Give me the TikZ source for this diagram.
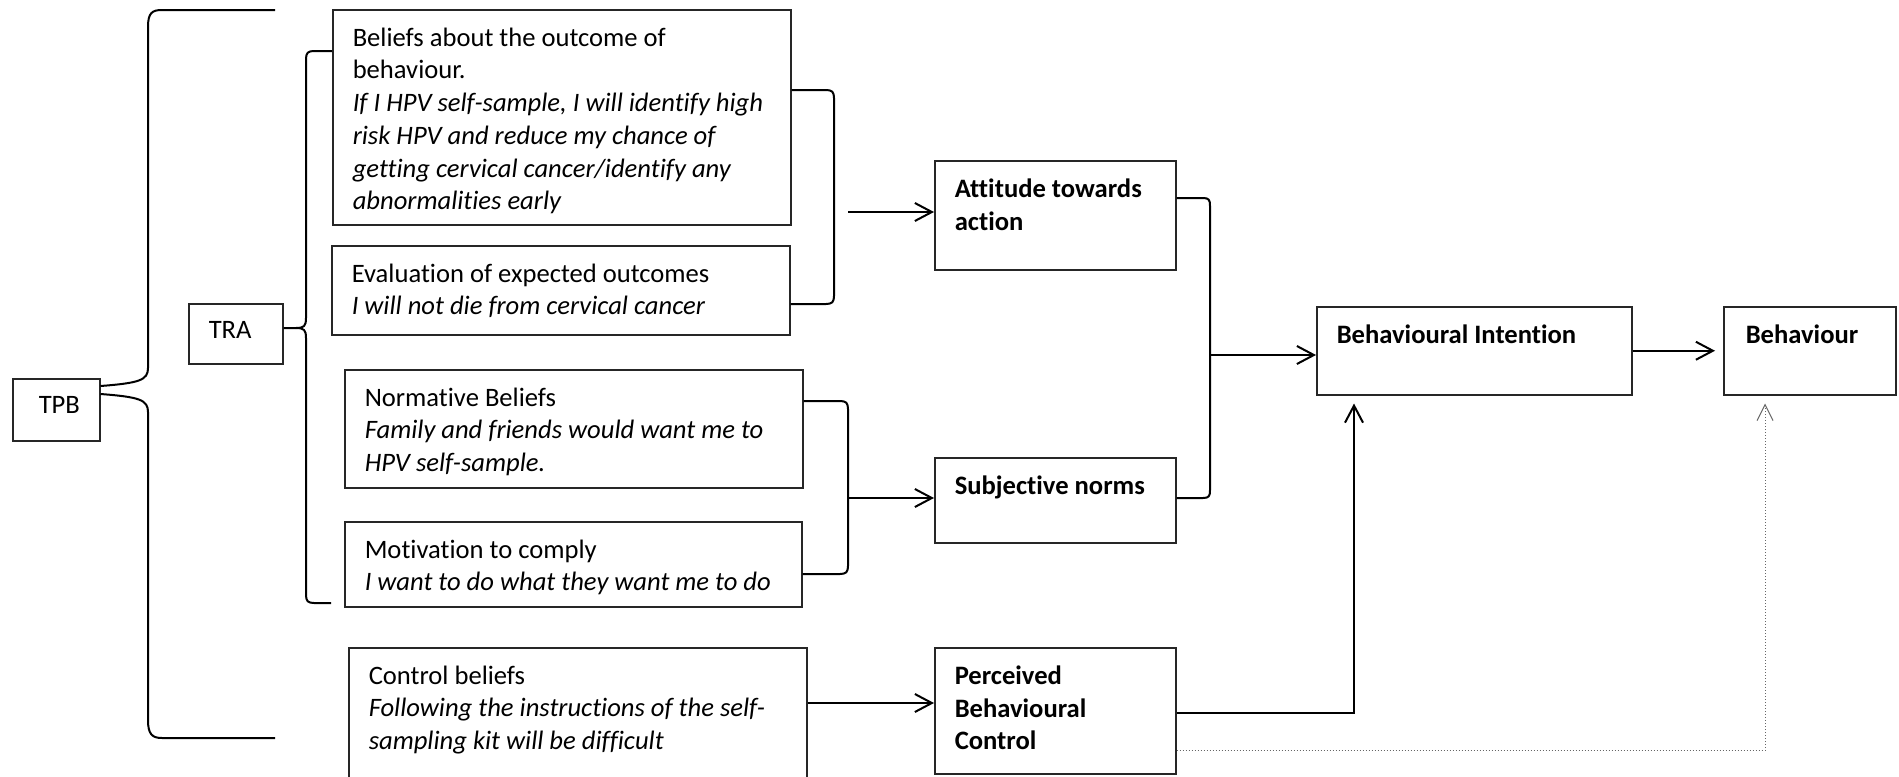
\documentclass[tikz,border=0pt]{standalone}
\usepackage{fontspec}
\setmainfont{Carlito}[Ligatures=CommonOff]
\usetikzlibrary{arrows.meta, positioning, calc}

% fixed size text block: height, width, content
\newcommand{\boxtext}[3]{\makebox[#2][l]{\parbox[t][#1][t]{20cm}{#3}}}

\begin{document}
\begin{tikzpicture}[
    x=0.5pt, y=-0.5pt,
    box/.style={draw=black!85, line width=0.75pt, anchor=north west, inner xsep=10pt, inner ysep=9pt, font=\fontsize{13.3}{16.35}\selectfont},
    brace/.style={line width=1pt},
    arrow/.style={-{Straight Barb[length=8.5pt,width=9pt]}, line width=1pt},
    dotarrow/.style={-{Straight Barb[length=8pt,width=8pt]}, densely dotted, line width=0.5pt, black!60}
]
\useasboundingbox (0,0) rectangle (1899,776);

% Theories
\node[box, inner xsep=13pt] (tpb) at (12,378) {\boxtext{13pt}{17.5pt}{TPB}};
\node[box] (tra) at (188,303) {\boxtext{12pt}{27pt}{TRA}};

% Beliefs
\node[box] (outcome) at (332,9) {\boxtext{89.5pt}{209pt}{Beliefs about the outcome of\\ behaviour.\\ \itshape If I HPV self-sample, I will identify high\\ risk HPV and reduce my chance of\\ getting cervical cancer/identify any\\ abnormalities early}};
\node[box] (evaluation) at (331,245) {\boxtext{26.5pt}{209pt}{Evaluation of expected outcomes\\ \itshape I will not die from cervical cancer}};
\node[box] (normative) at (344,369) {\boxtext{41pt}{209pt}{Normative Beliefs\\ \itshape Family and friends would want me to\\ HPV self-sample.}};
\node[box] (motivation) at (344,521) {\boxtext{24.5pt}{208.5pt}{Motivation to comply\\ \itshape I want to do what they want me to do}};
\node[box] (control) at (348,647) {\boxtext{49.5pt}{209pt}{Control beliefs\\ \itshape Following the instructions of the self-\\ sampling kit will be difficult}};

% Constructs
\node[box] (attitude) at (934,160) {\boxtext{36.5pt}{100.5pt}{\bfseries Attitude towards\\ action}};
\node[box] (subjective) at (934,457) {\boxtext{24.5pt}{100.5pt}{\bfseries Subjective norms}};
\node[box] (pbc) at (934,647) {\boxtext{45pt}{100.5pt}{\bfseries Perceived\\ Behavioural\\ Control}};
\node[box] (intention) at (1316,306) {\boxtext{26pt}{137.5pt}{\bfseries Behavioural Intention}};
\node[box, inner xsep=11pt] (behaviour) at (1723,306) {\boxtext{26pt}{64pt}{\bfseries Behaviour}};

% Brace ends
\coordinate (tpbtop) at (275,10);
\coordinate (tpbbot) at (275,738);
\coordinate (trabot) at (331,603);
\coordinate (attfrom) at (848,212);
\coordinate (subjfrom) at (848,498);
\coordinate (intfrom) at (1210,355);

% Braces
\draw[brace] (tpb.east |- 0,386) .. controls (140,383) and (148,380) .. (148,368) -- (148,27) .. controls (148,13) and (152,10) .. (162,10) -- (tpbtop);
\draw[brace] (tpb.east |- 0,394) .. controls (140,397) and (148,400) .. (148,412) -- (148,720) .. controls (148,734) and (152,738) .. (162,738) -- (tpbbot);
\draw[brace] (tra.east |- 0,328) -- (296,328) .. controls (304,328) and (306,326) .. (306,318) -- (306,59) .. controls (306,53) and (308,51) .. (314,51) -- (outcome.west |- 0,51);
\draw[brace] (296,328) .. controls (304,328) and (306,330) .. (306,338) -- (306,595) .. controls (306,601) and (308,603) .. (314,603) -- (trabot);
\draw[brace] (outcome.east |- 0,90) -- (826,90) .. controls (832,90) and (834,92) .. (834,98) -- (834,296) .. controls (834,302) and (832,304) .. (826,304) -- (evaluation.east |- 0,304);
\draw[brace] (normative.east |- 0,401) -- (840,401) .. controls (846,401) and (848,403) .. (848,409) -- (848,566) .. controls (848,572) and (846,574) .. (840,574) -- (motivation.east |- 0,574);
\draw[brace] (attitude.east |- 0,198) -- (1203,198) .. controls (1209,198) and (1210,200) .. (1210,206) -- (1210,490) .. controls (1210,496) and (1209,498) .. (1203,498) -- (subjective.east |- 0,498);

% Arrows
\draw[arrow] (attfrom) -- (attfrom -| attitude.west);
\draw[arrow] (subjfrom) -- (subjfrom -| subjective.west);
\draw[arrow] (intfrom) -- (intfrom -| intention.west);
\draw[arrow] (control.east |- 0,703) -- (pbc.west |- 0,703);
\draw[arrow, shorten >=4pt] (pbc.east |- 0,713) -| ($(intention.south west)+(38,0)$);
\draw[arrow, shorten >=4pt] (intention.east) -- (behaviour.west);
\draw[dotarrow, shorten >=4pt] (pbc.east |- 0,750) -| ($(behaviour.south west)+(42,0)$);
\end{tikzpicture}
\end{document}
